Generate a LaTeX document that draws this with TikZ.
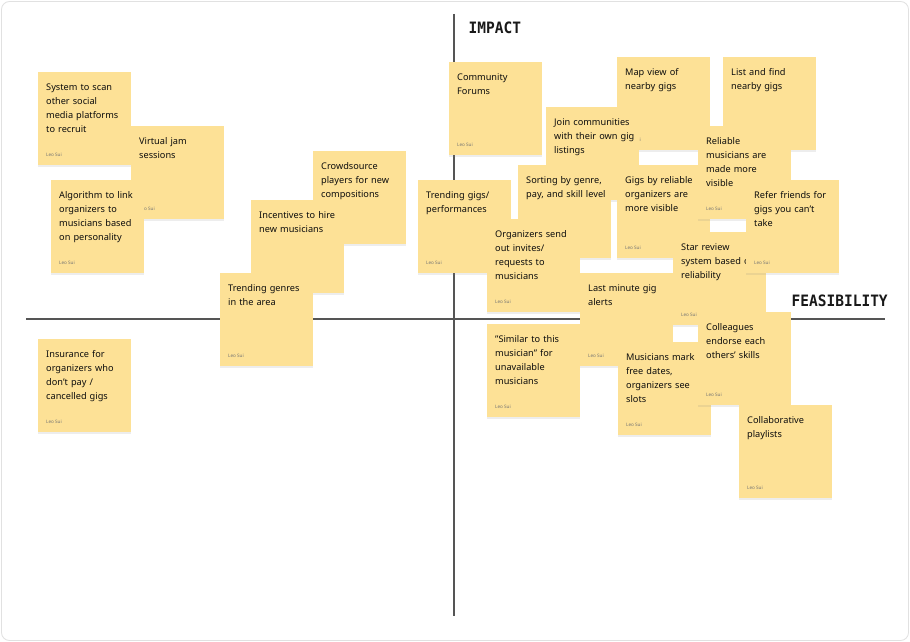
\documentclass[tikz,border=0pt]{standalone}
\usepackage{fontspec}
\setmainfont{Noto Sans}
\newfontfamily\axisfont{DejaVu Sans Mono}
\usetikzlibrary{shadows}
\definecolor{stickyY}{RGB}{253,225,150}
\definecolor{axisC}{RGB}{85,85,85}
\definecolor{frameC}{RGB}{225,225,225}
\tikzset{
  note/.style={rectangle, anchor=north west, minimum width=93pt, minimum height=93pt,
    inner sep=0pt, fill=stickyY, draw=none,
    drop shadow={opacity=0.14, shadow xshift=0pt, shadow yshift=-1.5pt}},
  notetext/.style={anchor=north west, inner sep=0pt, text width=88pt, align=left,
    font=\fontsize{9.2}{14}\selectfont, text=black!95},
  notefoot/.style={anchor=west, inner sep=0pt, font=\fontsize{4.6}{5}\selectfont, text=black!55},
  axisline/.style={draw=axisC, line width=1.2pt},
  axislabel/.style={anchor=west, inner sep=0pt, font=\axisfont\bfseries\fontsize{14.5}{15}\selectfont, text=black!90, yscale=1.08}
}
\newcommand\sticky[4]{%
  \node[note] (#1) at (#2,#3) {};
  \node[notetext] (#1-t) at ([xshift=8pt,yshift=-11.2pt]#1.north west) {#4};
  \node[notefoot] (#1-f) at ([xshift=8pt,yshift=11pt]#1.south west) {Leo Sui};
}
\begin{document}
\begin{tikzpicture}[x=1pt,y=-1pt]
\useasboundingbox (0,0) rectangle (910,642);
\fill[white] (0,0) rectangle (910,642);
\draw[frameC, line width=0.8pt, rounded corners=8pt] (1.5,1.5) rectangle (908.5,640.5);

% axes
\coordinate (vtop) at (454,14);
\coordinate (vbot) at (454,616);
\coordinate (hl) at (26,319);
\coordinate (hr) at (885,319);
\draw[axisline] (vtop) -- (vbot);
\draw[axisline] (hl) -- (hr);
\node[axislabel] (impact) at (468.5,27.5) {IMPACT};
\node[axislabel] (feas) at (791.5,300.5) {FEASIBILITY};

% left group
\sticky{scan}{38}{72}{System to scan\\other social\\media platforms\\to recruit}
\sticky{jam}{131}{126}{Virtual jam\\sessions}
\sticky{algo}{51}{180}{Algorithm to link\\organizers to\\musicians based\\on personality}
\sticky{crowd}{313}{151}{Crowdsource\\players for new\\compositions}
\sticky{incent}{251}{200}{Incentives to hire\\new musicians}
\sticky{tgenres}{220}{273}{Trending genres\\in the area}
\sticky{insur}{38}{339}{Insurance for\\organizers who\\don't pay /\\cancelled gigs}

% right group
\sticky{forum}{449}{62}{Community\\Forums}
\sticky{map}{617}{57}{Map view of\\nearby gigs}
\sticky{list}{723}{57}{List and find\\nearby gigs}
\sticky{join}{546}{107}{Join communities\\with their own gig\\listings}
\sticky{sort}{518}{165}{Sorting by genre,\\pay, and skill level}
\sticky{tgigs}{418}{180}{Trending gigs/\\performances}
\sticky{gigsrel}{617}{165}{Gigs by reliable\\organizers are\\more visible}
\sticky{relmus}{698}{126}{Reliable\\musicians are\\made more\\visible}
\sticky{star}{673}{232}{Star review\\system based on\\reliability}
\sticky{refer}{746}{180}{Refer friends for\\gigs you can't\\take}
\sticky{invite}{487}{219}{Organizers send\\out invites/\\requests to\\musicians}
\sticky{last}{580}{273}{Last minute gig\\alerts}
\sticky{similar}{487}{324}{"Similar to this\\musician" for\\unavailable\\musicians}
\sticky{mark}{618}{342}{Musicians mark\\free dates,\\organizers see\\slots}
\sticky{endorse}{698}{312}{Colleagues\\endorse each\\others’ skills}
\sticky{collab}{739}{405}{Collaborative\\playlists}
\end{tikzpicture}
\end{document}
